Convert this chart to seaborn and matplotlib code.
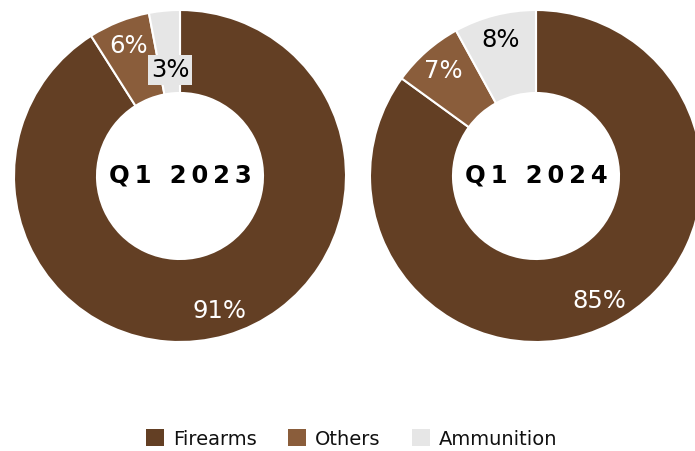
import matplotlib
matplotlib.use("Agg")
import matplotlib.pyplot as plt
from matplotlib.patches import Patch
import seaborn as sns
import numpy as np

categories = ["Firearms", "Others", "Ammunition"]
q1_2023 = [91, 6, 3]
q1_2024 = [85, 7, 8]
titles = ["Q1 2023", "Q1 2024"]

sns.set_theme(style="white")
plt.rcParams['font.family'] = ['DejaVu Sans']
palette = sns.color_palette(["#633F24", "#8A5D3B", "#E6E6E6"])
text_colors = ["white", "white", "black"]

W, H = 695, 451
fig = plt.figure(figsize=(W / 100, H / 100), dpi=100)
fig.patch.set_facecolor("white")

R = 166
centers = [(180, 176), (536, 176)]
series = [q1_2023, q1_2024]

for (cx, cy), vals, title in zip(centers, series, titles):
    ax = fig.add_axes([(cx - R) / W, (H - cy - R) / H, 2 * R / W, 2 * R / H])
    wedges, texts, autotexts = ax.pie(
        vals, colors=palette, startangle=90, counterclock=False,
        wedgeprops=dict(width=0.5, edgecolor="white", linewidth=1.5),
        autopct="%.0f%%", pctdistance=0.845,
        textprops=dict(fontsize=17.5, fontfamily=["DejaVu Sans"], fontweight="normal"))
    for i, t in enumerate(autotexts):
        t.set_color(text_colors[i])
        if vals[i] < 5:
            w = wedges[i]
            ang = np.deg2rad((w.theta1 + w.theta2) / 2)
            t.set_position((0.64 * np.cos(ang), 0.64 * np.sin(ang)))
            t.set_bbox(dict(boxstyle="square,pad=0.12", fc="#E6E6E6", ec="none"))
    spaced = "\u2009".join(list(title))
    ax.text(0, 0, spaced, ha="center", va="center", fontsize=17.5,
            fontweight="heavy", color="black")
    ax.set_xlim(-1, 1)
    ax.set_ylim(-1, 1)
    ax.set_aspect("equal")
    ax.axis("off")

handles = [Patch(facecolor=c, edgecolor="none", label=l) for c, l in zip(palette, categories)]
fig.legend(handles=handles, loc="center", bbox_to_anchor=(0.506, 1 - 439 / H),
           ncol=3, frameon=False, fontsize=14, handlelength=0.95, handleheight=0.95,
           handletextpad=0.45, columnspacing=1.6, labelcolor="#111111")

fig.savefig("out.png", dpi=100, facecolor="white")
